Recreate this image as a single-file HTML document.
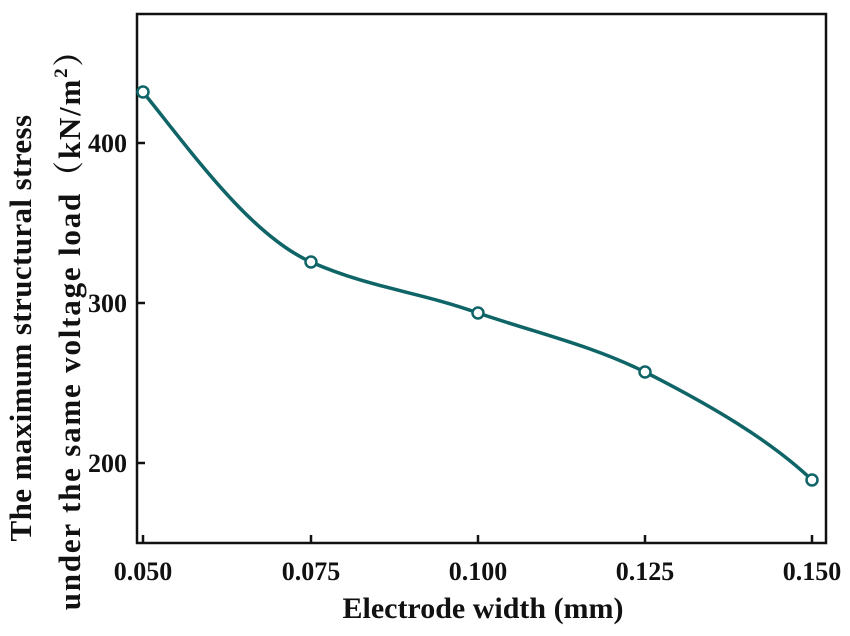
<!DOCTYPE html>
<html><head><meta charset="utf-8"><style>
html,body{margin:0;padding:0;background:#fff;}
svg{display:block;}
text{font-family:"Liberation Serif","Noto Serif CJK SC",serif;font-weight:bold;fill:#111;}
</style></head><body>
<svg width="850" height="636" viewBox="0 0 850 636" xmlns="http://www.w3.org/2000/svg">
<rect x="137" y="14" width="689" height="529" fill="none" stroke="#111" stroke-width="2.5"/>
<g stroke="#111" stroke-width="2.5">
<line x1="143" y1="543" x2="143" y2="535"/>
<line x1="311" y1="543" x2="311" y2="535"/>
<line x1="478" y1="543" x2="478" y2="535"/>
<line x1="645" y1="543" x2="645" y2="535"/>
<line x1="812" y1="543" x2="812" y2="535"/>
<line x1="137" y1="143" x2="145" y2="143"/>
<line x1="137" y1="303" x2="145" y2="303"/>
<line x1="137" y1="463" x2="145" y2="463"/>
</g>
<g font-size="26" text-anchor="middle">
<text x="143" y="580">0.050</text>
<text x="311" y="580">0.075</text>
<text x="478" y="580">0.100</text>
<text x="645" y="580">0.125</text>
<text x="812" y="580">0.150</text>
</g>
<g font-size="26" text-anchor="end">
<text x="127" y="152">400</text>
<text x="127" y="312">300</text>
<text x="127" y="472">200</text>
</g>
<text x="483" y="618" font-size="30" text-anchor="middle">Electrode width (mm)</text>
<text transform="translate(31,328) rotate(-90)" font-size="31" letter-spacing="0.4" text-anchor="middle">The maximum structural stress</text>
<text transform="translate(80,322) rotate(-90)" font-size="31" letter-spacing="1.8" text-anchor="middle">under the same voltage load（kN/m<tspan font-size="19" dy="-13">2</tspan><tspan dy="13">）</tspan></text>
<path d="M143,92 C190,150 250,235 311,262 C370,288 420,292 478,313 C540,334 590,345 645,372 C710,405 770,440 812,480" fill="none" stroke="#0e6466" stroke-width="3.5"/>
<g fill="#fff" stroke="#0e6466" stroke-width="2.5">
<circle cx="143" cy="92" r="5.5"/>
<circle cx="311" cy="262" r="5.5"/>
<circle cx="478" cy="313" r="5.5"/>
<circle cx="645" cy="372" r="5.5"/>
<circle cx="812" cy="480" r="5.5"/>
</g>
</svg>
</body></html>
